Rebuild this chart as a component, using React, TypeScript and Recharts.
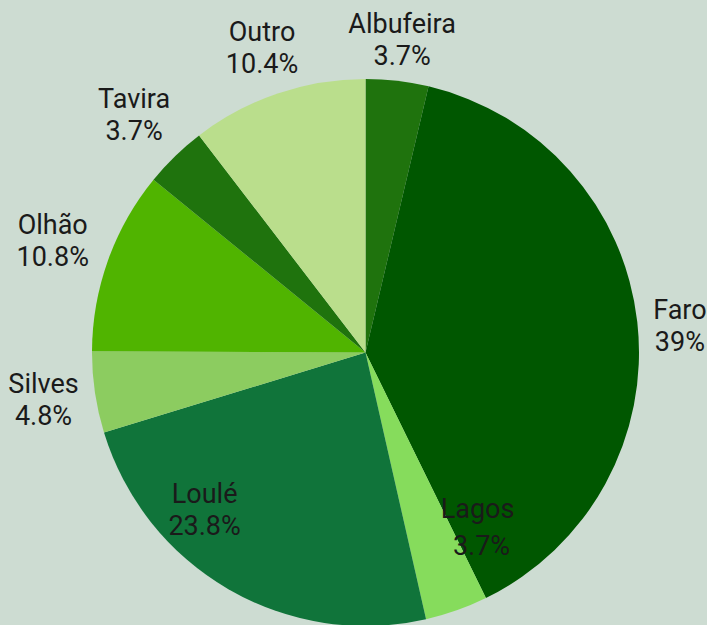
import { PieChart, Pie, Cell } from "recharts";

const names = ["Albufeira", "Faro", "Lagos", "Loulé", "Silves", "Olhão", "Tavira", "Outro"];
const shares = [3.7, 39, 3.7, 23.8, 4.8, 10.8, 3.7, 10.4];

const colors = ["#1f730d", "#005700", "#86dc5c", "#10743a", "#8ccc60", "#50b400", "#1f730d", "#bade8c"];
// label distance (x outer radius) and angle nudge, picked to match the original placement
const labelRadius = [1.153, 1.154, 0.757, 0.822, 1.19, 1.215, 1.215, 1.178];
const labelShift = [0, 1.4, -13.3, 15.6, 0, 0, 0, 0];

const data = names.map((name, i) => ({ name, value: shares[i] }));

const RAD = Math.PI / 180;

function SliceLabel({ cx, cy, midAngle, outerRadius, index }: any) {
  // angle measured clockwise from 12 o'clock
  const theta = (90 - midAngle + labelShift[index]) * RAD;
  const r = outerRadius * labelRadius[index];
  const x = cx + r * Math.sin(theta);
  const y = cy - r * Math.cos(theta);
  const gap = index === 2 ? 37 : 32;
  return (
    <text
      x={x}
      y={y}
      textAnchor="middle"
      fill="#1a1a1a"
      style={{ fontFamily: "Roboto, sans-serif", fontSize: 27 }}
    >
      <tspan x={x} y={y - gap / 2 + 9.5}>{names[index]}</tspan>
      <tspan x={index === 2 ? x + 4 : x} y={y + gap / 2 + 9.5}>{`${shares[index]}%`}</tspan>
    </text>
  );
}

export default function App() {
  return (
    <div style={{ position: "absolute", left: 0, top: 0, width: 707, height: 625, background: "#cddcd2" }}>
      <PieChart width={707} height={625} margin={{ top: 0, right: 0, bottom: 0, left: 0 }}>
        <Pie
          data={data}
          dataKey="value"
          nameKey="name"
          cx={365.5}
          cy={352.5}
          outerRadius={273.5}
          startAngle={90}
          endAngle={-270}
          stroke="none"
          labelLine={false}
          label={SliceLabel}
          isAnimationActive={false}
        >
          {data.map((d, i) => (
            <Cell key={d.name} fill={colors[i]} />
          ))}
        </Pie>
      </PieChart>
    </div>
  );
}
